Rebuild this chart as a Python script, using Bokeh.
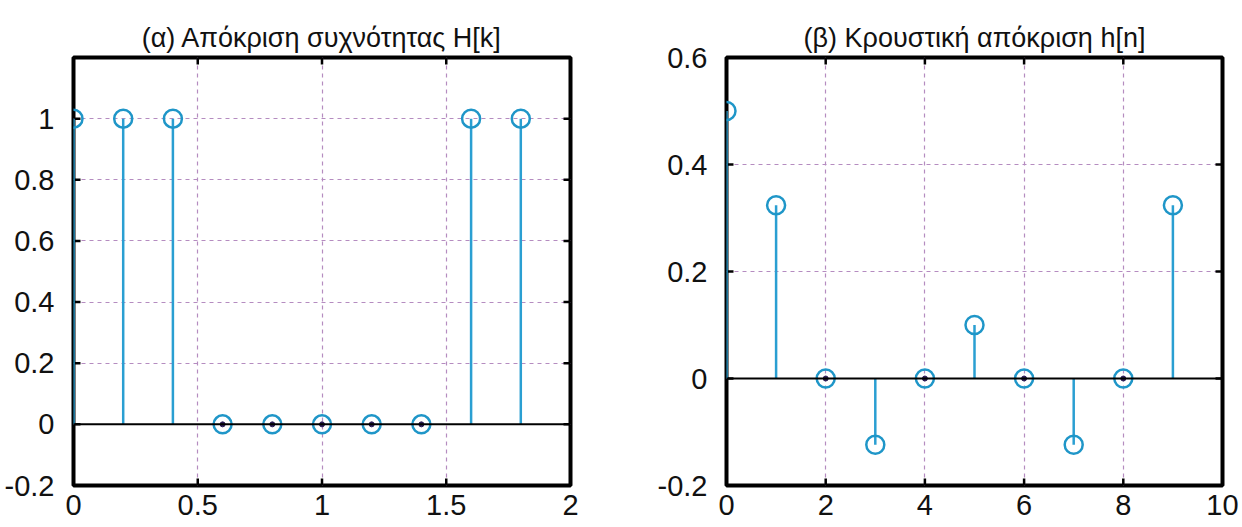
from bokeh.plotting import figure
from bokeh.layouts import row
from bokeh.models import (Range1d, FixedTicker, Span, CustomJSTickFormatter,
                          ColumnDataSource)
from bokeh.embed import file_html
from bokeh.resources import INLINE

# ---- data ----
k_freq = [0.0, 0.2, 0.4, 0.6, 0.8, 1.0, 1.2, 1.4, 1.6, 1.8]
H_k = [1, 1, 1, 0, 0, 0, 0, 0, 1, 1]

n_idx = [0, 1, 2, 3, 4, 5, 6, 7, 8, 9]
h_n = [0.5, 0.324, 0.0, -0.124, 0.0, 0.1, 0.0, -0.124, 0.0, 0.324]

left_title = "(α) Απόκριση συχνότητας H[k]"
right_title = "(β) Κρουστική απόκριση h[n]"

left_xticks = [0, 0.5, 1, 1.5, 2]
left_yticks = [-0.2, 0, 0.2, 0.4, 0.6, 0.8, 1]
right_xticks = [0, 2, 4, 6, 8, 10]
right_yticks = [-0.2, 0, 0.2, 0.4, 0.6]

STEM = "#2a9fd2"
MARK = "#1f96c8"
DOT = "#2b1d55"
GRID = "#b58cc0"
FONT = "Liberation Sans"
TICK_FS = "29px"
TITLE_FS = "27px"

FRAME_W = 497
FRAME_H = 428
TICK_PX = 7

fmt_code = "var v = Math.round(tick*10)/10; return String(v);"


def make(xs, ys, xr, yr, xticks, yticks, title, width, mb_left, mb_right):
    p = figure(width=width, height=527, output_backend="svg", toolbar_location=None,
               x_range=Range1d(*xr), y_range=Range1d(*yr),
               min_border_left=mb_left, min_border_right=mb_right,
               min_border_top=57, min_border_bottom=42)
    p.background_fill_color = "white"
    p.border_fill_color = "white"
    p.outline_line_color = "black"
    p.outline_line_width = 4

    p.title.text = title
    p.title.align = "center"
    p.title.text_font = FONT
    p.title.text_font_size = TITLE_FS
    p.title.text_font_style = "normal"
    p.title.text_color = "#111111"
    p.title.standoff = 10

    xt = FixedTicker(ticks=xticks)
    yt = FixedTicker(ticks=yticks)
    fmt = CustomJSTickFormatter(code=fmt_code)

    for ax, tk in ((p.xaxis[0], xt), (p.yaxis[0], yt)):
        ax.ticker = tk
        ax.formatter = fmt
        ax.axis_line_color = None
        ax.major_tick_line_color = None
        ax.minor_tick_line_color = None
        ax.major_label_text_font = FONT
        ax.major_label_text_font_size = TICK_FS
        ax.major_label_text_color = "#111111"
    p.xaxis[0].major_label_standoff = 3
    p.yaxis[0].major_label_standoff = 13

    p.xgrid.ticker = xt
    p.ygrid.ticker = yt
    for g in (p.xgrid, p.ygrid):
        g.grid_line_color = GRID
        g.grid_line_dash = "4 4"
        g.grid_line_width = 1.2

    # tick marks pointing inward on all four edges
    dy = (yr[1] - yr[0]) * TICK_PX / FRAME_H
    dx = (xr[1] - xr[0]) * TICK_PX / FRAME_W
    nx, ny = len(xticks), len(yticks)
    p.segment(x0=xticks + xticks, x1=xticks + xticks,
              y0=[yr[0]] * nx + [yr[1]] * nx,
              y1=[yr[0] + dy] * nx + [yr[1] - dy] * nx,
              line_color="black", line_width=2.5)
    p.segment(y0=yticks + yticks, y1=yticks + yticks,
              x0=[xr[0]] * ny + [xr[1]] * ny,
              x1=[xr[0] + dx] * ny + [xr[1] - dx] * ny,
              line_color="black", line_width=2.5)

    p.add_layout(Span(location=0, dimension="width", line_color="black", line_width=2))

    src = ColumnDataSource(dict(x=xs, y=ys, base=[0] * len(xs)))
    p.segment(x0="x", y0="base", x1="x", y1="y", source=src, line_color=STEM, line_width=2.5)
    p.scatter("x", "y", source=src, marker="circle", size=18, fill_color=None,
              line_color=MARK, line_width=2.5)
    zx = [x for x, y in zip(xs, ys) if y == 0]
    zy = [y for y in ys if y == 0]
    p.scatter(zx, zy, marker="circle", size=5, fill_color=DOT, line_color=DOT)
    return p


p1 = make(k_freq, H_k, (0, 2), (-0.2, 1.2), left_xticks, left_yticks, left_title, 620, 73, 50)
p2 = make(n_idx, h_n, (0, 10), (-0.2, 0.6), right_xticks, right_yticks, right_title, 622, 106, 20)

layout = row(p1, p2, spacing=0)
open("out.html", "w").write(file_html(layout, INLINE))
